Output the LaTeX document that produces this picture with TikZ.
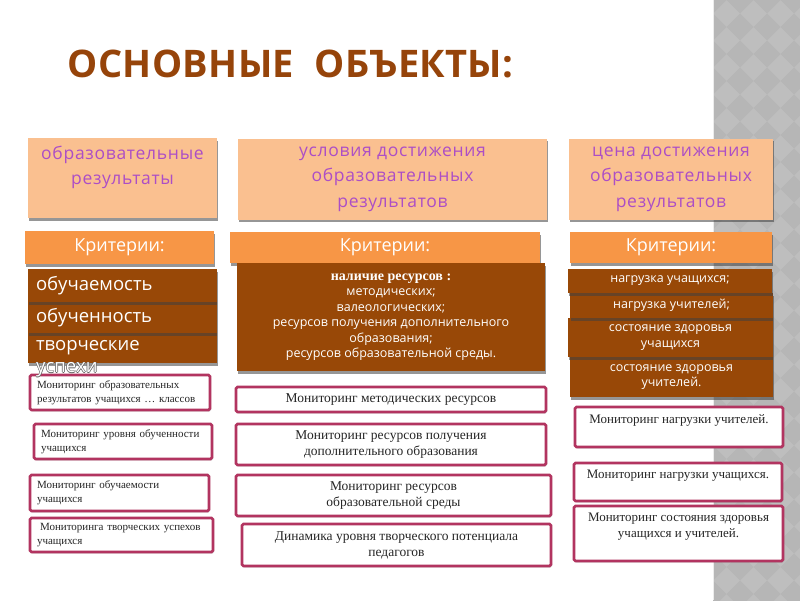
\documentclass[tikz,border=0pt]{standalone}
\usepackage{fontspec}
\setmainfont{Liberation Serif}
\newfontfamily\osans{Open Sans}
\newfontfamily\osanssp[LetterSpace=4]{Open Sans}
\newfontfamily\ttlfont[LetterSpace=1]{Open Sans}
\usetikzlibrary{shadows}
\definecolor{peach}{RGB}{250,192,144}
\definecolor{lilac}{RGB}{172,78,198}
\definecolor{orng}{RGB}{247,150,70}
\definecolor{brwn}{RGB}{152,72,7}
\definecolor{crim}{RGB}{178,52,96}
\definecolor{stripe}{RGB}{190,190,190}
\definecolor{stripedk}{RGB}{182,182,182}
\definecolor{ttlbrown}{RGB}{150,68,10}
\newcommand{\halo}[1]{\leavevmode\rlap{\color{black!60}\hspace*{-0.7pt}#1}\rlap{\color{black!60}\hspace*{0.7pt}#1}\rlap{\color{black!60}\raisebox{0.7pt}{#1}}\rlap{\color{black!60}\raisebox{-0.7pt}{#1}}{\color{white}#1}}
\begin{document}
\begin{tikzpicture}[x=1pt,y=-1pt,
  shad/.style={drop shadow={shadow xshift=1pt,shadow yshift=-2.5pt,opacity=0.55,fill=black!75}},
  headbox/.style={shad,fill=peach,inner sep=0pt,align=center,text=lilac,
    font=\osanssp\fontsize{17.5}{25.5}\selectfont},
  critbar/.style={shad,fill=orng,inner sep=0pt,text=white,
    font=\osans\fontsize{18}{20}\selectfont},
  brownl/.style={shad,fill=brwn,inner xsep=8pt,inner ysep=0pt,text=white,align=left,
    font=\osans\fontsize{18.5}{22}\selectfont},
  brownc/.style={shad,fill=brwn,inner sep=0pt,text=white,align=center,
    font=\osans\fontsize{12.5}{15.5}\selectfont},
  mon/.style={draw=crim,line width=2.6pt,fill=white,rounded corners=1.5pt,
    drop shadow={shadow xshift=1pt,shadow yshift=-1.5pt,opacity=0.3,fill=black!50},
    inner sep=0pt,text=black!85},
  monl/.style={mon,align=left,inner xsep=7pt,font=\fontsize{11}{14}\selectfont},
  monc/.style={mon,align=center,font=\fontsize{13.5}{16}\selectfont},
  monr/.style={mon,align=center,font=\fontsize{13}{16.5}\selectfont}
]
\useasboundingbox (0,0) rectangle (800,600);
\fill[white] (0,0) rectangle (800,600);
% gray stripe
\begin{scope}
  \clip (713,0) rectangle (800,600);
  \fill[stripe] (705,-10) rectangle (810,610);
  \foreach \i in {0,...,4}{\foreach \j in {0,...,23}{
    \fill[stripedk] ({713+27*\i-13.5},{27*\j}) -- ({713+27*\i},{27*\j-13.5})
      -- ({713+27*\i+13.5},{27*\j}) -- ({713+27*\i},{27*\j+13.5}) -- cycle;}}
  \draw[white!85!gray,line width=1pt] (713.5,0) -- (713.5,600);
\end{scope}

% title
\node[anchor=base west,text=ttlbrown,font=\ttlfont\bfseries\fontsize{38}{44}\selectfont]
  (title) at (64,77) {ОСНОВНЫЕ\ \ ОБЪЕКТЫ:};

% head boxes
\node[headbox,minimum width=189pt,minimum height=80pt] (hL) at (122.5,178)
  {образовательные\\результаты\\\mbox{}};
\node[headbox,minimum width=309pt,minimum height=81pt] (hM) at (392.5,179)
  {условия достижения\\образовательных\\результатов};
\node[headbox,minimum width=204pt,minimum height=81pt] (hR) at (671,179)
  {цена достижения\\образовательных\\результатов};

% criteria bars
\node[critbar,minimum width=189pt,minimum height=33pt] (cL) at (119.5,247.5) {Критерии:};
\node[critbar,minimum width=310pt,minimum height=31pt] (cM) at (385,247.5) {Критерии:};
\node[critbar,minimum width=202pt,minimum height=31pt] (cR) at (671,247.5) {Критерии:};

% left brown boxes
\node[brownl,text width=173pt,minimum height=30pt] (bL3) at (122.5,348) {творческие};
\node[brownl,text width=173pt,minimum height=31pt] (bL2) at (122.5,317.5) {обученность};
\node[brownl,text width=173pt,minimum height=33pt] (bL1) at (122.5,285.5) {обучаемость};

% middle brown box
\node[brownc,minimum width=308pt,minimum height=108pt] (bM) at (391,317)
  {{\rmfamily\bfseries\fontsize{14}{16}\selectfont наличие ресурсов :}\\
   методических;\\валеологических;\\ресурсов получения дополнительного\\
   образования;\\ресурсов образовательной среды.};

% right brown boxes
\node[brownc,minimum width=203pt,minimum height=40pt] (bR4) at (671.5,377)
  {состояние здоровья\\учителей.};
\node[brownc,minimum width=205pt,minimum height=39pt] (bR3) at (670.5,337.5)
  {состояние здоровья\\учащихся};
\node[brownc,minimum width=203pt,minimum height=25pt] (bR2) at (671.5,305.5)
  {нагрузка учителей;};
\node[brownc,minimum width=204pt,minimum height=24pt] (bR1) at (670,281)
  {нагрузка учащихся;};

% left monitoring boxes
\node[monl,text width=166pt,minimum height=35pt] (mL1) at (120,392.5)
  {\mbox{Мониторинг образовательных}\\\mbox{результатов учащихся … классов}};
\node[monl,text width=164pt,minimum height=35pt] (mL2) at (123,441.5)
  {\mbox{Мониторинг уровня обученности}\\учащихся};
\node[monl,text width=165pt,minimum height=36pt] (mL3) at (119.5,493)
  {Мониторинг обучаемости\\учащихся};
\node[monl,text width=169pt,minimum height=34pt] (mL4) at (121.5,535)
  {\mbox{\hspace*{3pt}Мониторинга творческих успехов}\\учащихся};

% middle monitoring boxes
\node[monc,minimum width=310pt,minimum height=25pt] (mM1) at (391,399.5)
  {Мониторинг методических ресурсов};
\node[monc,minimum width=310pt,minimum height=41pt] (mM2) at (391,444.5)
  {Мониторинг ресурсов получения\\дополнительного образования};
\node[monc,minimum width=315pt,minimum height=41pt] (mM3) at (393.5,495.5)
  {Мониторинг ресурсов\\образовательной среды};
\node[monc,minimum width=309pt,minimum height=42pt] (mM4) at (396.5,545)
  {Динамика уровня творческого потенциала\\педагогов};

% right monitoring boxes
\node[monr,minimum width=208pt,minimum height=40pt] (mR1) at (679,427)
  {Мониторинг нагрузки учителей.\\\mbox{}};
\node[monr,minimum width=208pt,minimum height=38pt] (mR2) at (678,482)
  {Мониторинг нагрузки учащихся.\\\mbox{}};
\node[monr,minimum width=209pt,minimum height=55pt] (mR3) at (678.5,533.5)
  {Мониторинг состояния здоровья\\учащихся и учителей.\\\mbox{}};

% overflowing word
\node[anchor=west,inner sep=0pt,font=\osans\fontsize{18.5}{22}\selectfont]
  (bL3u) at (36,370) {\halo{успехи}};
\end{tikzpicture}
\end{document}
